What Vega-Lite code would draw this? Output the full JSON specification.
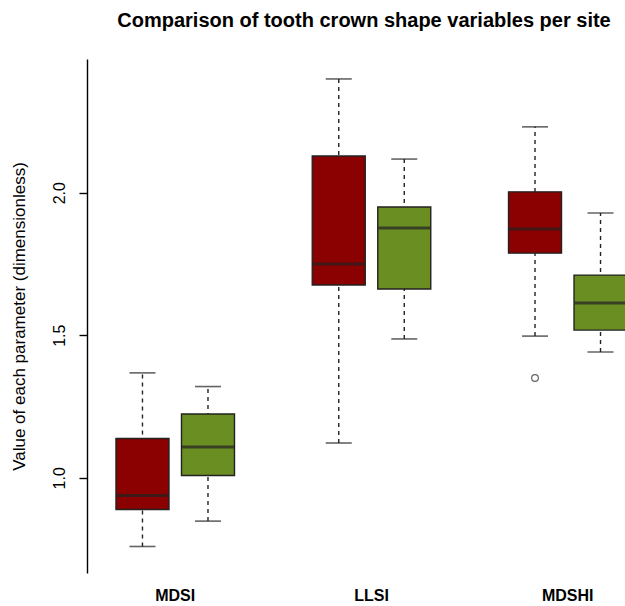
{
  "$schema": "https://vega.github.io/schema/vega-lite/v6.json",
  "width": 538,
  "height": 514,
  "autosize": "none",
  "padding": {"left": 87, "top": 59, "right": 0, "bottom": 33},
  "background": "white",
  "config": {
    "view": {"stroke": null},
    "font": "Liberation Sans"
  },
  "title": {
    "text": "Comparison of tooth crown shape variables per site",
    "fontSize": 20,
    "fontWeight": "bold",
    "font": "Liberation Sans",
    "color": "black",
    "anchor": "middle",
    "dx": 8,
    "offset": 28
  },
  "datasets": {
    "boxes": [
      {"variable": "MDSI", "site": "Site 1", "min": 0.759, "q1": 0.889, "median": 0.938, "q3": 1.138, "max": 1.368},
      {"variable": "MDSI", "site": "Site 2", "min": 0.848, "q1": 1.008, "median": 1.108, "q3": 1.224, "max": 1.320},
      {"variable": "LLSI", "site": "Site 1", "min": 1.122, "q1": 1.676, "median": 1.750, "q3": 2.129, "max": 2.399},
      {"variable": "LLSI", "site": "Site 2", "min": 1.487, "q1": 1.662, "median": 1.876, "q3": 1.950, "max": 2.118},
      {"variable": "MDSHI", "site": "Site 1", "min": 1.497, "q1": 1.788, "median": 1.873, "q3": 2.003, "max": 2.231},
      {"variable": "MDSHI", "site": "Site 2", "min": 1.441, "q1": 1.518, "median": 1.613, "q3": 1.711, "max": 1.929}
    ],
    "outliers": [
      {"variable": "MDSHI", "site": "Site 1", "value": 1.350}
    ]
  },
  "encoding": {
    "x": {
      "field": "variable",
      "type": "nominal",
      "sort": ["MDSI", "LLSI", "MDSHI"],
      "scale": {"domain": ["MDSI", "LLSI", "MDSHI"], "range": [-9.9, 578.9], "paddingInner": 0, "paddingOuter": 0},
      "axis": {
        "title": null,
        "domain": false,
        "ticks": false,
        "labelAngle": 0,
        "labelFontSize": 16,
        "labelFontWeight": "bold",
        "labelColor": "black",
        "labelPadding": 14,
        "labelFont": "Liberation Sans"
      }
    },
    "xOffset": {
      "field": "site",
      "type": "nominal",
      "scale": {"domain": ["Site 1", "Site 2"], "paddingInner": 0, "paddingOuter": 0.498}
    }
  },
  "layer": [
    {
      "data": {"name": "boxes"},
      "mark": {"type": "rule", "strokeDash": [4, 4], "color": "#222", "strokeWidth": 1.4},
      "encoding": {
        "y": {
          "field": "min",
          "type": "quantitative",
          "scale": {"domain": [0.666, 2.469], "nice": false, "zero": false},
          "axis": {
            "title": "Value of each parameter (dimensionless)",
            "titleFontSize": 17,
            "titleFontWeight": "normal",
            "titleColor": "black",
            "titleFont": "Liberation Sans",
            "titlePadding": 23,
            "values": [1, 1.5, 2],
            "format": ".1f",
            "labelAngle": -90,
            "labelFontSize": 16,
            "labelColor": "black",
            "labelPadding": 12,
            "labelFont": "Liberation Sans",
            "tickSize": 8,
            "tickColor": "black",
            "domainColor": "black",
            "domainWidth": 1.4,
            "tickWidth": 1.4,
            "grid": false
          }
        },
        "y2": {"field": "max"}
      }
    },
    {
      "data": {"name": "boxes"},
      "mark": {"type": "tick", "size": 26, "thickness": 1.6, "color": "#222"},
      "encoding": {"y": {"field": "min", "type": "quantitative"}}
    },
    {
      "data": {"name": "boxes"},
      "mark": {"type": "tick", "size": 26, "thickness": 1.6, "color": "#222"},
      "encoding": {"y": {"field": "max", "type": "quantitative"}}
    },
    {
      "data": {"name": "boxes"},
      "mark": {"type": "bar", "width": 53, "stroke": "#222", "strokeWidth": 1.4, "opacity": 1},
      "encoding": {
        "y": {"field": "q1", "type": "quantitative"},
        "y2": {"field": "q3"},
        "color": {
          "field": "site",
          "type": "nominal",
          "scale": {"domain": ["Site 1", "Site 2"], "range": ["#8B0000", "#6B8E23"]},
          "legend": null
        }
      }
    },
    {
      "data": {"name": "boxes"},
      "mark": {"type": "tick", "size": 52, "thickness": 3, "color": "#222"},
      "encoding": {"y": {"field": "median", "type": "quantitative"}}
    },
    {
      "data": {"name": "outliers"},
      "mark": {"type": "point", "shape": "circle", "filled": false, "size": 45, "color": "#222", "strokeWidth": 1.2},
      "encoding": {"y": {"field": "value", "type": "quantitative"}}
    }
  ]
}
